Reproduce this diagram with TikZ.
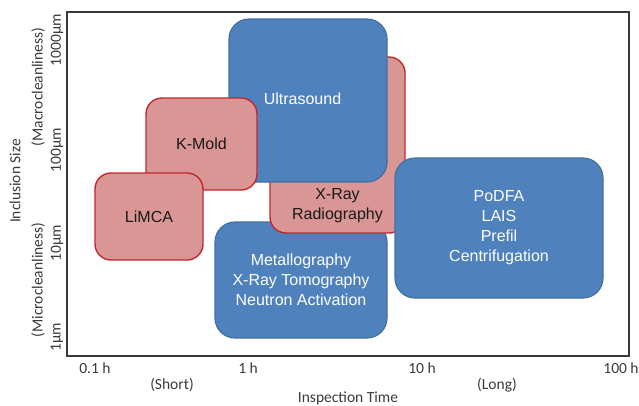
\documentclass[tikz,border=0pt]{standalone}
\usepackage{fontspec}
\setmainfont{Liberation Sans}
\newfontfamily\axisfont{Carlito}
\definecolor{boxblue}{HTML}{4F81BD}
\definecolor{boxblueline}{HTML}{41709F}
\definecolor{boxpink}{HTML}{D99694}
\definecolor{boxred}{HTML}{C0282E}
\definecolor{axisgray}{HTML}{3A3A3A}

\begin{document}
\begin{tikzpicture}[x=1bp,y=-1bp,
  blue box/.style={draw=boxblueline,fill=boxblue,line width=1.2bp,
  rounded corners=20bp,text=white,align=center,
  font=\fontsize{16bp}{20bp}\selectfont},
  red box/.style={draw=boxred,fill=boxpink,line width=1.4bp,
  rounded corners=16bp,text=black!90,align=center,
  font=\fontsize{16bp}{20bp}\selectfont},
  axis label/.style={text=axisgray,inner sep=0pt,
  font=\axisfont\fontsize{15.5bp}{18bp}\selectfont}]

  \useasboundingbox (0,0) rectangle (639,405);

  % frame of the chart
  \node[draw=axisgray,line width=1.5bp,minimum width=562bp,
    minimum height=344bp,inner sep=0pt] (frame) at (348,184) {};

  % boxes, back to front
  \node[blue box,minimum width=172bp,minimum height=116bp] (metal) at (301,280)
    {Metallography\\X-Ray Tomography\\Neutron Activation};
  \node[red box,minimum width=135bp,minimum height=176bp] (xray) at (337.5,145) {};
  \node[blue box,minimum width=158bp,minimum height=163bp] (ultra) at (308,100.5) {};
  \node[red box,minimum width=111bp,minimum height=92bp] (kmold) at (201.5,144) {K-Mold};
  \node[red box,minimum width=108bp,minimum height=87bp] (limca) at (149,216.5) {LiMCA};
  \node[blue box,minimum width=208bp,minimum height=140bp] (podfa) at (499,228)
    {PoDFA\\LAIS\\Prefil\\Centrifugation};

  % texts placed off the box centres
  \node[red box,draw=none,fill=none] (xraytext) at (337.5,206) {X-Ray\\Radiography};
  \node[blue box,draw=none,fill=none] (ultratext) at (302.5,99) {Ultrasound};

  % time axis
  \node[axis label] (t01) at (95,368) {0.1 h};
  \node[axis label] (t1) at (248,368) {1 h};
  \node[axis label] (t10) at (422,368) {10 h};
  \node[axis label] (t100) at (621,368) {100 h};
  \node[axis label] (short) at (172,385) {(Short)};
  \node[axis label] (long) at (497,385) {(Long)};
  \node[axis label] (xtitle) at (348,398) {Inspection Time};

  % size axis
  \node[axis label,rotate=90] (s1000) at (57,40) {1000µm};
  \node[axis label,rotate=90] (s100) at (57,150) {100µm};
  \node[axis label,rotate=90] (s10) at (57,243) {10µm};
  \node[axis label,rotate=90] (s1) at (57,337) {1µm};
  \node[axis label,rotate=90] (macro) at (38,87) {(Macrocleanliness)};
  \node[axis label,rotate=90] (micro) at (38,280) {(Microcleanliness)};
  \node[axis label,rotate=90] (ytitle) at (15,181) {Inclusion Size};

\end{tikzpicture}
\end{document}
